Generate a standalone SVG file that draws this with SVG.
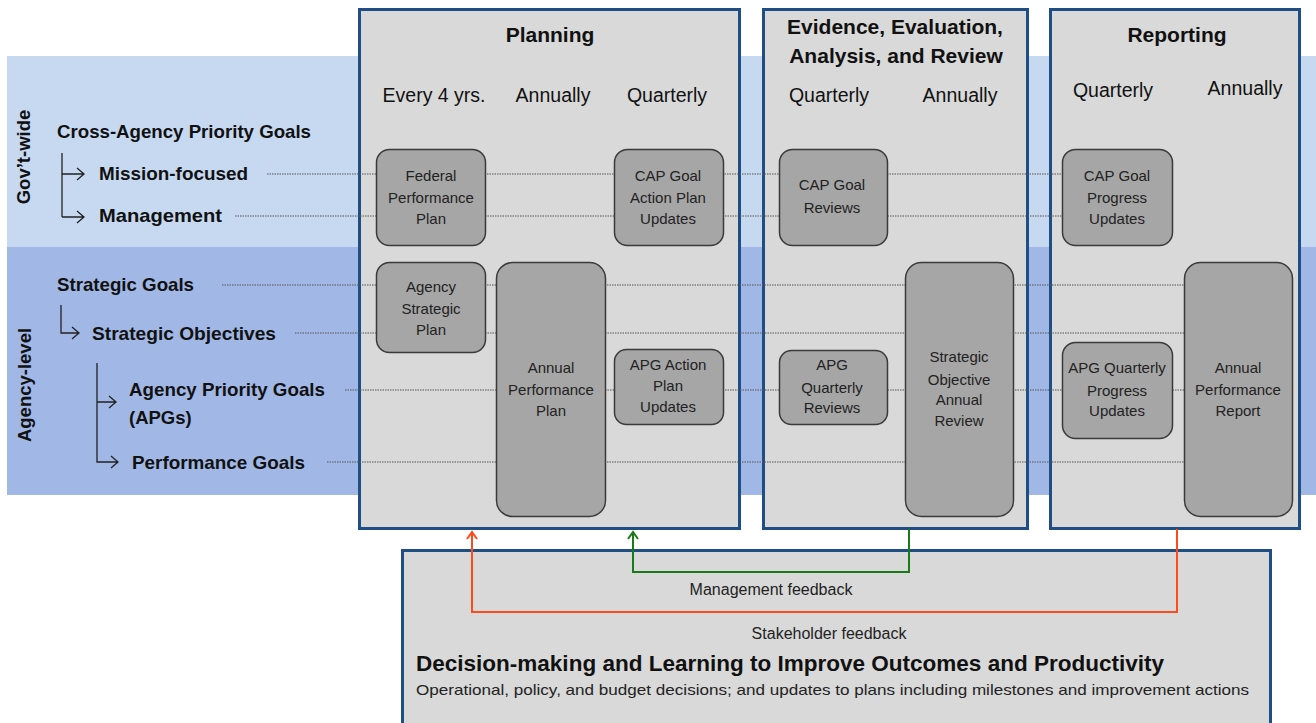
<svg xmlns="http://www.w3.org/2000/svg" width="1316" height="723" viewBox="0 0 1316 723">
<defs>
<style>
.panel{fill:#d9d9d9;stroke:#1f4e85;stroke-width:3}
.node rect{fill:#a6a6a6;stroke:#3a3a3a;stroke-width:1.5}
.nt{font-family:"Liberation Sans",Arial,sans-serif;font-size:15px;fill:#222;text-anchor:middle}
.hd{font-family:"Liberation Sans",Arial,sans-serif;font-size:21px;font-weight:bold;fill:#111;text-anchor:middle}
.fr{font-family:"Liberation Sans",Arial,sans-serif;font-size:19.5px;fill:#111;text-anchor:middle}
.lb{font-family:"Liberation Sans",Arial,sans-serif;font-size:18.5px;font-weight:bold;fill:#111}
.dot{stroke:#555;stroke-width:1;stroke-dasharray:1.5,1;fill:none}
.br{stroke:#222;stroke-width:1.3;fill:none}
.bt{font-family:"Liberation Sans",Arial,sans-serif;font-size:16px;fill:#222;text-anchor:middle}
</style>
<marker id="ag" markerWidth="12" markerHeight="12" refX="9" refY="6" orient="auto" markerUnits="userSpaceOnUse" viewBox="0 0 12 12">
<path d="M2 1 L9 6 L2 11" fill="none" stroke="#1a7a1a" stroke-width="2"/>
</marker>
<marker id="ar" markerWidth="12" markerHeight="12" refX="9" refY="6" orient="auto" markerUnits="userSpaceOnUse" viewBox="0 0 12 12">
<path d="M2 1 L9 6 L2 11" fill="none" stroke="#ff4a1c" stroke-width="2"/>
</marker>
</defs>
<rect width="1316" height="723" fill="#ffffff"/>
<g id="bands">
<rect x="7" y="56" width="1309" height="191" fill="#c6d9f1"/>
<rect x="7" y="247" width="1309" height="248" fill="#a1b8e6"/>
</g>
<g id="row-labels">
<text class="lb" transform="translate(30,157) rotate(-90)" text-anchor="middle">Gov’t-wide</text>
<text class="lb" transform="translate(31,385) rotate(-90)" text-anchor="middle">Agency-level</text>
<text class="lb" x="57" y="138" textLength="254" lengthAdjust="spacingAndGlyphs">Cross-Agency Priority  Goals</text>
<text class="lb" x="99" y="180" textLength="149" lengthAdjust="spacingAndGlyphs">Mission-focused</text>
<text class="lb" x="99" y="222" textLength="123" lengthAdjust="spacingAndGlyphs">Management</text>
<text class="lb" x="57" y="291" textLength="137" lengthAdjust="spacingAndGlyphs">Strategic Goals</text>
<text class="lb" x="92" y="340" textLength="184" lengthAdjust="spacingAndGlyphs">Strategic Objectives</text>
<text class="lb" x="129" y="396" textLength="196" lengthAdjust="spacingAndGlyphs">Agency Priority Goals</text>
<text class="lb" x="129" y="424">(APGs)</text>
<text class="lb" x="132" y="469" textLength="173" lengthAdjust="spacingAndGlyphs">Performance Goals</text>
<path class="br" d="M62 153 V217 M62 174 H84 M77 168 L84 174 L77 180 M62 217 H84 M77 211 L84 217 L77 223"/>
<path class="br" d="M61 305 V333 H79 M72 327 L79 333 L72 339"/>
<path class="br" d="M97 363 V462 H118 M111 456 L118 462 L111 468 M97 402 H116 M109 396 L116 402 L109 408"/>
</g>
<g id="panel-planning">
<rect class="panel" x="359.5" y="9.5" width="380" height="519"/>
<text class="hd" x="550" y="42">Planning</text>
<text class="fr" x="434" y="102">Every 4 yrs.</text>
<text class="fr" x="553" y="102">Annually</text>
<text class="fr" x="667" y="102">Quarterly</text>
</g>
<g id="panel-evidence">
<rect class="panel" x="763.5" y="9.5" width="264" height="519"/>
<text class="hd" x="895" y="34" font-size="19">Evidence, Evaluation,</text>
<text class="hd" x="896" y="63" font-size="19">Analysis, and Review</text>
<text class="fr" x="829" y="102">Quarterly</text>
<text class="fr" x="960" y="102">Annually</text>
</g>
<g id="panel-reporting">
<rect class="panel" x="1050.5" y="9.5" width="249" height="519"/>
<text class="hd" x="1177" y="42">Reporting</text>
<text class="fr" x="1113" y="97">Quarterly</text>
<text class="fr" x="1245" y="95">Annually</text>
</g>
<g id="connectors-rows">
<path class="dot" d="M267 174 H1062 M235 216 H1062 M222 285 H1184 M295 333 H1184 M345 390 H1184 M327 462 H1184"/>
</g>
<g id="node-fpp" class="node"><rect x="376.5" y="149.5" width="109" height="96" rx="13"/>
<text class="nt" x="431" y="181">Federal</text><text class="nt" x="431" y="203">Performance</text><text class="nt" x="431" y="224">Plan</text></g>
<g id="node-capapu" class="node"><rect x="614.5" y="149.5" width="109" height="96" rx="13"/>
<text class="nt" x="668" y="181">CAP Goal</text><text class="nt" x="668" y="203">Action Plan</text><text class="nt" x="668" y="224">Updates</text></g>
<g id="node-asp" class="node"><rect x="376.5" y="262.5" width="109" height="90" rx="13"/>
<text class="nt" x="431" y="292">Agency</text><text class="nt" x="431" y="314">Strategic</text><text class="nt" x="431" y="335">Plan</text></g>
<g id="node-app" class="node"><rect x="496.5" y="262.5" width="109" height="254" rx="16"/>
<text class="nt" x="551" y="373">Annual</text><text class="nt" x="551" y="395">Performance</text><text class="nt" x="551" y="416">Plan</text></g>
<g id="node-apgapu" class="node"><rect x="614.5" y="349.5" width="109" height="75" rx="12"/>
<text class="nt" x="668" y="370">APG Action</text><text class="nt" x="668" y="391">Plan</text><text class="nt" x="668" y="412">Updates</text></g>
<g id="node-capr" class="node"><rect x="779.5" y="149.5" width="108" height="96" rx="13"/>
<text class="nt" x="832" y="190">CAP Goal</text><text class="nt" x="832" y="213">Reviews</text></g>
<g id="node-apgqr" class="node"><rect x="779.5" y="350.5" width="108" height="74" rx="12"/>
<text class="nt" x="832" y="370">APG</text><text class="nt" x="832" y="393">Quarterly</text><text class="nt" x="832" y="413">Reviews</text></g>
<g id="node-soar" class="node"><rect x="905.5" y="262.5" width="108" height="254" rx="16"/>
<text class="nt" x="959" y="362">Strategic</text><text class="nt" x="959" y="385">Objective</text><text class="nt" x="959" y="405">Annual</text><text class="nt" x="959" y="426">Review</text></g>
<g id="node-cappu" class="node"><rect x="1062.5" y="149.5" width="110" height="96" rx="13"/>
<text class="nt" x="1117" y="181">CAP Goal</text><text class="nt" x="1117" y="203">Progress</text><text class="nt" x="1117" y="224">Updates</text></g>
<g id="node-apgqpu" class="node"><rect x="1062.5" y="342.5" width="110" height="96" rx="13"/>
<text class="nt" x="1117" y="373">APG Quarterly</text><text class="nt" x="1117" y="396">Progress</text><text class="nt" x="1117" y="416">Updates</text></g>
<g id="node-apr" class="node"><rect x="1184.5" y="262.5" width="108" height="254" rx="16"/>
<text class="nt" x="1238" y="373">Annual</text><text class="nt" x="1238" y="395">Performance</text><text class="nt" x="1238" y="416">Report</text></g>
<g id="panel-decision">
<rect class="panel" x="402.5" y="550.5" width="868" height="190"/>
<text class="bt" x="771" y="595">Management feedback</text>
<text class="bt" x="829" y="639">Stakeholder feedback</text>
<text x="416" y="671" font-family="'Liberation Sans',Arial,sans-serif" font-size="22" font-weight="bold" fill="#111" textLength="748" lengthAdjust="spacingAndGlyphs">Decision-making and Learning to Improve Outcomes and Productivity</text>
<text x="416" y="695" font-family="'Liberation Sans',Arial,sans-serif" font-size="15" fill="#222" textLength="833" lengthAdjust="spacingAndGlyphs">Operational, policy, and budget decisions; and updates to plans including milestones and improvement actions</text>
</g>
<g id="connectors-feedback">
<path d="M909 529 V572 H633 V532" fill="none" stroke="#1a7a1a" stroke-width="2" marker-end="url(#ag)"/>
<path d="M1177 529 V612 H472 V532" fill="none" stroke="#ff4a1c" stroke-width="2" marker-end="url(#ar)"/>
</g>
</svg>
